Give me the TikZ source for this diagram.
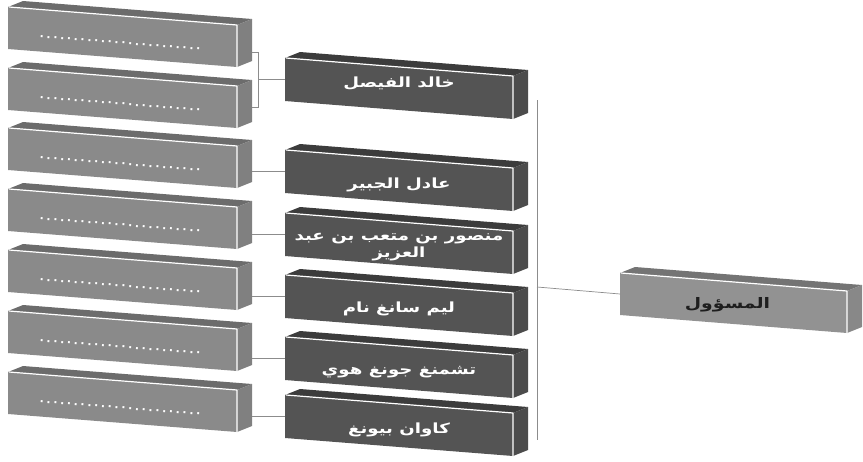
\documentclass[tikz,border=0pt]{standalone}
\usepackage{fontspec}
\usetikzlibrary{calc}
\TeXXeTstate=1
\newfontfamily\arabicfont[Script=Arabic,FakeStretch=1.3]{DejaVu Sans}
\newfontfamily\dotfont[LetterSpace=24]{DejaVu Sans}

% palettes: front, top and side faces of each slab
\definecolor{lgtfront}{RGB}{138,138,138}
\definecolor{lgttop}{RGB}{108,108,108}
\definecolor{lgtside}{RGB}{128,128,128}
\definecolor{drkfront}{RGB}{84,84,84}
\definecolor{drktop}{RGB}{60,60,60}
\definecolor{drkside}{RGB}{76,76,76}
\definecolor{midfront}{RGB}{146,146,146}
\definecolor{midtop}{RGB}{116,116,116}
\definecolor{midside}{RGB}{136,136,136}
\definecolor{wire}{RGB}{140,140,140}

\tikzset{
  rim/.style={draw=white, line width=1.2pt, line join=round},
  conn/.style={draw=wire, line width=0.7pt},
  dotrow/.style={text=white, sloped, inner sep=0pt, yshift=-6pt, xshift=-2pt,
    font=\dotfont\bfseries\fontsize{11}{11}\selectfont},
  person/.style={text=white, align=center, inner sep=1pt,
    font=\arabicfont\bfseries\fontsize{14}{17}\selectfont},
  head/.style={text={rgb,255:red,30;green,30;blue,30}, inner sep=1pt,
    font=\arabicfont\bfseries\fontsize{14.5}{17}\selectfont}
}

% a tilted slab: #1 name, #2 x, #3 y of front top-left corner, #4 front width,
% #5 front height, #6 palette, #7 label options, #8 label
\newcommand{\slab}[8]{%
  \fill[#6top] (#2,#3) -- ++(15,-6) -- ++(#4,18) -- ++(-15,6) -- cycle;
  \fill[#6side] (#2+#4,#3+18) -- ++(15,-6) -- ++(0,#5) -- ++(-15,6) -- cycle;
  \fill[#6front] (#2,#3) -- ++(#4,18) -- ++(0,#5) -- ++(-#4,-18) -- cycle;
  \draw[rim] (#2+1,#3) -- ++(#4-1,18) -- ++(0,#5);
  \coordinate (#1-w) at (#2,#3+#5/2);
  \coordinate (#1-e) at (#2+#4+15,#3+12+#5/2);
  \path (#2,#3+#5/2) -- ++(#4,18) node[midway,#7] (#1) {#8};
}
\newcommand{\dotline}{........................}

\begin{document}
\begin{tikzpicture}[x=1pt,y=-1pt]
\useasboundingbox (0,0) rectangle (863,461);
\fill[white] (0,0) rectangle (863,461);

% left column
\slab{L1}{8}{7}{229}{42}{lgt}{dotrow}{\dotline}
\slab{L2}{8}{68}{229}{42}{lgt}{dotrow}{\dotline}
\slab{L3}{8}{128}{229}{42}{lgt}{dotrow}{\dotline}
\slab{L4}{8}{189}{229}{42}{lgt}{dotrow}{\dotline}
\slab{L5}{8}{250}{229}{42}{lgt}{dotrow}{\dotline}
\slab{L6}{8}{311}{229}{42}{lgt}{dotrow}{\dotline}
\slab{L7}{8}{372}{229}{42}{lgt}{dotrow}{\dotline}

% middle column
\slab{M1}{285}{58}{228}{43}{drk}{person,yshift=5pt}{\beginR خالد الفيصل\endR}
\slab{M2}{285}{150}{228}{43}{drk}{person,yshift=-4pt}{\beginR عادل الجبير\endR}
\slab{M3}{285}{213}{228}{43}{drk}{person,yshift=-4pt}{\beginR منصور بن متعب بن عبد\endR\\\beginR العزيز\endR}
\slab{M4}{285}{275}{228}{43}{drk}{person,yshift=-3pt}{\beginR ليم سانغ نام\endR}
\slab{M5}{285}{337}{228}{43}{drk}{person,yshift=-5pt}{\beginR تشمنغ جونغ هوي\endR}
\slab{M6}{285}{395}{228}{43}{drk}{person,yshift=-4pt}{\beginR كاوان بيونغ\endR}

% right box
\slab{R}{620}{273}{227}{42}{mid}{head,yshift=-2pt,xshift=-6pt}{\beginR المسؤول\endR}

% bracket joining the first two left slabs
\draw[conn] (M1-w) -- ++(-27,0) coordinate (brk);
\draw[conn] ($(L1-e)+(0,12)$) -- ($(brk|-L1-e)+(0,12)$) -- ($(brk|-L2-e)+(0,6)$) -- ($(L2-e)+(0,6)$);

% single links
\draw[conn] (M2-w -| L3-e) -- (M2-w);
\draw[conn] (M3-w -| L4-e) -- (M3-w);
\draw[conn] (M4-w -| L5-e) -- (M4-w);
\draw[conn] (M5-w -| L6-e) -- (M5-w);
\draw[conn] (M6-w -| L7-e) -- (M6-w);

% trunk on the right of the middle column
\path (M1-e) ++(9,8.5) coordinate (trunkTop);
\path (M6-e) ++(9,11.5) coordinate (trunkBot);
\draw[conn] (trunkTop) -- (trunkBot);
\coordinate (J) at ($(trunkTop)!0.55!(trunkBot)$);
\draw[conn] (J) -- (R-w);
\end{tikzpicture}
\end{document}
